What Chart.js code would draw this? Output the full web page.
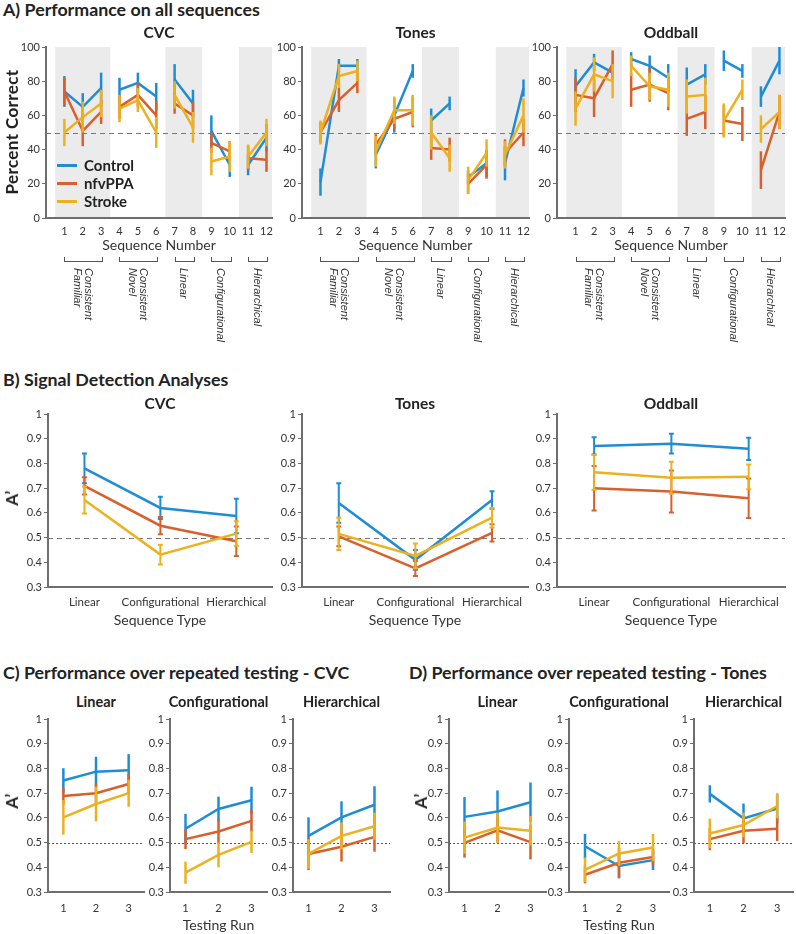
<!DOCTYPE html>
<html>
<head>
<meta charset="utf-8">
<script src="https://cdn.jsdelivr.net/npm/chart.js@4.4.0/dist/chart.umd.min.js"></script>
<style>
body { margin: 0; background: #fff; }
#page { position: relative; width: 796px; height: 934px; overflow: hidden; font-family: Lato, sans-serif; color: #222; }
.t { position: absolute; white-space: nowrap; }
canvas { position: absolute; }
</style>
</head>
<body>
<div id="page"></div>
<script>
// ---- data ----
var groupNames = ["Control", "nfvPPA", "Stroke"];
var groupColors = ["#1f8dd6", "#d95f2b", "#edb120"];

var seqNumbers = [1, 2, 3, 4, 5, 6, 7, 8, 9, 10, 11, 12];
var seqGroups = [[1, 2, 3], [4, 5, 6], [7, 8], [9, 10], [11, 12]];
var seqGroupNames = [["Consistent", "Familiar"], ["Consistent", "Novel"], ["Linear"], ["Configurational"], ["Hierarchical"]];
var shadedGroups = [0, 2, 4];
var percentTicks = [0, 20, 40, 60, 80, 100];
var aPrimeTicks = [0.3, 0.4, 0.5, 0.6, 0.7, 0.8, 0.9, 1];
var seqTypes = ["Linear", "Configurational", "Hierarchical"];
var testingRuns = [1, 2, 3];

// A) percent correct, per sequence 1-12
var cvcControl = [74, 65, 76, 75, 79, 71, 81, 67, 51, 31, 31, 47];
var cvcControlErr = [9, 8, 9, 7, 6, 8, 9, 8, 9, 7, 6, 8];
var cvcNfv = [74, 51, 62, 65, 72, 60, 67, 60, 44, 39, 35, 34];
var cvcNfvErr = [8, 9, 7, 7, 7, 8, 6, 8, 6, 6, 7, 7];
var cvcStroke = [50, 59, 67, 64, 69, 50, 72, 53, 33, 36, 36, 50];
var cvcStrokeErr = [8, 9, 8, 8, 7, 9, 8, 9, 8, 9, 7, 8];

var tonesControl = [21, 89, 89, 37, 60, 86, 57, 67, 24, 32, 32, 76];
var tonesControlErr = [8, 4, 4, 8, 10, 4, 7, 4, 4, 8, 10, 5];
var tonesNfv = [50, 69, 79, 43, 58, 62, 41, 40, 20, 31, 38, 50];
var tonesNfvErr = [6, 7, 6, 6, 6, 9, 7, 7, 6, 8, 8, 8];
var tonesStroke = [50, 83, 86, 39, 63, 63, 50, 35, 22, 38, 37, 60];
var tonesStrokeErr = [7, 7, 6, 9, 8, 9, 10, 8, 8, 8, 8, 10];

var oddControl = [77, 91, 85, 93, 89, 82, 78, 84, 92, 86, 71, 92];
var oddControlErr = [10, 5, 4, 4, 6, 8, 10, 6, 6, 4, 6, 8];
var oddNfv = [72, 70, 90, 75, 78, 73, 58, 62, 57, 55, 28, 62];
var oddNfvErr = [10, 11, 8, 10, 10, 10, 10, 10, 9, 10, 11, 10];
var oddStroke = [64, 84, 80, 89, 77, 75, 71, 72, 57, 75, 52, 62];
var oddStrokeErr = [10, 10, 10, 6, 8, 10, 10, 10, 10, 6, 8, 10];

// B) A' by sequence type
var sdCvcControl = [0.78, 0.62, 0.587], sdCvcControlErr = [0.06, 0.045, 0.07];
var sdCvcNfv = [0.709, 0.548, 0.485], sdCvcNfvErr = [0.035, 0.035, 0.06];
var sdCvcStroke = [0.652, 0.431, 0.516], sdCvcStrokeErr = [0.055, 0.04, 0.05];
var sdTonesControl = [0.64, 0.41, 0.652], sdTonesControlErr = [0.08, 0.04, 0.035];
var sdTonesNfv = [0.505, 0.375, 0.519], sdTonesNfvErr = [0.04, 0.03, 0.035];
var sdTonesStroke = [0.515, 0.426, 0.581], sdTonesStrokeErr = [0.065, 0.05, 0.04];
var sdOddControl = [0.871, 0.88, 0.859], sdOddControlErr = [0.035, 0.04, 0.045];
var sdOddNfv = [0.70, 0.686, 0.659], sdOddNfvErr = [0.09, 0.085, 0.08];
var sdOddStroke = [0.764, 0.742, 0.746], sdOddStrokeErr = [0.07, 0.065, 0.05];

// C) CVC A' over testing runs
var runCvcLinControl = [0.751, 0.787, 0.793], runCvcLinControlErr = [0.05, 0.06, 0.065];
var runCvcLinNfv = [0.688, 0.70, 0.737], runCvcLinNfvErr = [0.035, 0.04, 0.04];
var runCvcLinStroke = [0.602, 0.656, 0.70], runCvcLinStrokeErr = [0.07, 0.07, 0.055];
var runCvcConControl = [0.556, 0.636, 0.671], runCvcConControlErr = [0.06, 0.05, 0.055];
var runCvcConNfv = [0.514, 0.545, 0.588], runCvcConNfvErr = [0.04, 0.05, 0.045];
var runCvcConStroke = [0.378, 0.45, 0.503], runCvcConStrokeErr = [0.045, 0.05, 0.045];
var runCvcHieControl = [0.527, 0.602, 0.653], runCvcHieControlErr = [0.075, 0.065, 0.075];
var runCvcHieNfv = [0.454, 0.483, 0.523], runCvcHieNfvErr = [0.065, 0.06, 0.06];
var runCvcHieStroke = [0.454, 0.527, 0.566], runCvcHieStrokeErr = [0.06, 0.055, 0.055];

// D) Tones A' over testing runs
var runTonLinControl = [0.604, 0.626, 0.663], runTonLinControlErr = [0.08, 0.085, 0.08];
var runTonLinNfv = [0.499, 0.55, 0.502], runTonLinNfvErr = [0.06, 0.05, 0.07];
var runTonLinStroke = [0.52, 0.561, 0.548], runTonLinStrokeErr = [0.065, 0.06, 0.06];
var runTonConControl = [0.485, 0.405, 0.429], runTonConControlErr = [0.05, 0.05, 0.04];
var runTonConNfv = [0.37, 0.418, 0.442], runTonConNfvErr = [0.035, 0.06, 0.035];
var runTonConStroke = [0.39, 0.456, 0.48], runTonConStrokeErr = [0.05, 0.05, 0.055];
var runTonHieControl = [0.697, 0.598, 0.638], runTonHieControlErr = [0.035, 0.06, 0.06];
var runTonHieNfv = [0.514, 0.548, 0.556], runTonHieNfvErr = [0.045, 0.05, 0.05];
var runTonHieStroke = [0.537, 0.571, 0.648], runTonHieStrokeErr = [0.06, 0.05, 0.05];

// ---- plugins ----
var bandPlugin = {
    id: 'bands',
    beforeDraw: function(chart, args, opts) {
        if (!opts.ranges) return;
        var ctx = chart.ctx, a = chart.chartArea, x = chart.scales.x;
        ctx.save();
        ctx.fillStyle = '#ebebeb';
        opts.ranges.forEach(function(r) {
            var x0 = x.getPixelForValue(Math.max(r[0], x.min));
            var x1 = x.getPixelForValue(Math.min(r[1], x.max));
            ctx.fillRect(x0, a.top, x1 - x0, a.bottom - a.top);
        });
        ctx.restore();
    }
};

var refLinePlugin = {
    id: 'refLine',
    beforeDatasetsDraw: function(chart, args, opts) {
        if (opts.value == null) return;
        var ctx = chart.ctx, a = chart.chartArea;
        var py = Math.round(chart.scales.y.getPixelForValue(opts.value)) + 0.5;
        ctx.save();
        ctx.strokeStyle = opts.color || '#777';
        ctx.lineWidth = 1;
        ctx.setLineDash(opts.dash || [5, 4]);
        ctx.beginPath();
        ctx.moveTo(a.left, py);
        ctx.lineTo(a.right, py);
        ctx.stroke();
        ctx.restore();
    }
};

var errorBarPlugin = {
    id: 'errorBars',
    afterDatasetDraw: function(chart, args, opts) {
        var ds = chart.data.datasets[args.index];
        var ctx = chart.ctx, x = chart.scales.x, y = chart.scales.y;
        var cap = opts.cap || 0;
        ctx.save();
        ctx.strokeStyle = ds.borderColor;
        ctx.lineWidth = opts.width || 2.5;
        ds.data.forEach(function(p) {
            if (p.y == null || p.e == null) return;
            var px = x.getPixelForValue(p.x);
            var y0 = y.getPixelForValue(p.y - p.e), y1 = y.getPixelForValue(p.y + p.e);
            ctx.beginPath();
            ctx.moveTo(px, y0);
            ctx.lineTo(px, y1);
            if (cap) {
                ctx.moveTo(px - cap, y0); ctx.lineTo(px + cap, y0);
                ctx.moveTo(px - cap, y1); ctx.lineTo(px + cap, y1);
            }
            ctx.stroke();
        });
        ctx.restore();
    }
};

Chart.register(bandPlugin, refLinePlugin, errorBarPlugin);
Chart.defaults.font.family = 'Lato';
Chart.defaults.color = '#333';

var page = document.getElementById('page');

function addText(text, x, y, css) {
    var d = document.createElement('div');
    d.className = 't';
    d.textContent = text;
    d.style.cssText = 'left:' + x + 'px;top:' + y + 'px;' + (css || '');
    page.appendChild(d);
    return d;
}

function points(xs, vals, errs) {
    return xs.map(function(xv, i) { return { x: xv, y: vals[i], e: errs[i] }; });
}

function seqPoints(vals, errs) {
    var pts = [];
    seqGroups.forEach(function(g) {
        g.forEach(function(n) { pts.push({ x: n, y: vals[n - 1], e: errs[n - 1] }); });
        pts.push({ x: g[g.length - 1] + 0.5, y: null });
    });
    return pts;
}

function makeDatasets(series) {
    return series.map(function(data, i) {
        return {
            label: groupNames[i],
            data: data,
            borderColor: groupColors[i],
            backgroundColor: groupColors[i],
            borderWidth: 2.5,
            pointRadius: 0,
            spanGaps: false,
            order: 2 - i
        };
    });
}

// box = chart area in page pixels
function makeChart(box, datasets, o) {
    var padL = 44, padT = 8, padR = 6, padB = 26;
    var w = box.right - box.left + padL + padR;
    var h = box.bottom - box.top + padT + padB;
    var cv = document.createElement('canvas');
    cv.width = w; cv.height = h;
    cv.style.left = (box.left - padL) + 'px';
    cv.style.top = (box.top - padT) + 'px';
    cv.style.width = w + 'px';
    cv.style.height = h + 'px';
    page.appendChild(cv);
    var chart = new Chart(cv, {
        type: 'line',
        data: { datasets: datasets },
        options: {
            responsive: false,
            animation: false,
            events: [],
            layout: { padding: { left: 0, top: padT, right: padR, bottom: 0 } },
            plugins: {
                legend: { display: false },
                tooltip: { enabled: false },
                bands: { ranges: o.bands },
                refLine: { value: o.ref, dash: o.dash, color: o.refColor },
                errorBars: { cap: o.cap, width: o.errWidth }
            },
            scales: {
                x: {
                    type: 'linear', min: o.xMin, max: o.xMax,
                    grid: { display: false, drawTicks: false, tickLength: 0 },
                    border: { display: true, color: '#6e6e6e', width: 2 },
                    ticks: {
                        padding: o.xPad, font: { size: o.xFont || 11 }, color: '#333', maxRotation: 0,
                        callback: o.xLabel
                    },
                    afterBuildTicks: function(s) { s.ticks = o.xTicks.map(function(v) { return { value: v }; }); },
                    afterFit: function(s) { s.height = padB; s.paddingLeft = 0; s.paddingRight = 0; }
                },
                y: {
                    type: 'linear', min: o.yMin, max: o.yMax,
                    grid: { display: true, drawOnChartArea: false, drawTicks: true, tickLength: 4, color: '#6e6e6e', lineWidth: 1 },
                    border: { display: true, color: '#6e6e6e', width: 2 },
                    ticks: { padding: 2, font: { size: 11 }, color: '#333', callback: o.yLabel },
                    afterBuildTicks: function(s) { s.ticks = o.yTicks.map(function(v) { return { value: v }; }); },
                    afterFit: function(s) { s.width = padL; s.paddingTop = 0; s.paddingBottom = 0; }
                }
            }
        }
    });
    return chart;
}

function aPrimeLabel(v) { return Math.abs(v - 1) < 1e-9 ? '1' : v.toFixed(1); }
function intLabel(v) { return String(v); }

var titleCss = 'font-weight:700;font-size:17.8px;line-height:20px;color:#222;';
var subCss = 'font-weight:700;font-size:15.5px;line-height:18px;color:#222;transform:translate(-50%,-50%);';
var axCss = 'font-size:14px;line-height:16px;color:#333;transform:translate(-50%,-50%);';
var vertCss = 'font-weight:700;font-size:17px;letter-spacing:0.4px;line-height:20px;color:#222;transform:translate(-50%,-50%) rotate(-90deg);';

// ---- A) Performance on all sequences ----
addText('A) Performance on all sequences', 3, -1, titleCss);
var bandRanges = shadedGroups.map(function(gi) {
    var g = seqGroups[gi];
    return [g[0] - 0.5, g[g.length - 1] + 0.5];
});
var aCharts = [
    ['CVC', { left: 46, right: 272 }, [seqPoints(cvcControl, cvcControlErr), seqPoints(cvcNfv, cvcNfvErr), seqPoints(cvcStroke, cvcStrokeErr)]],
    ['Tones', { left: 302, right: 529 }, [seqPoints(tonesControl, tonesControlErr), seqPoints(tonesNfv, tonesNfvErr), seqPoints(tonesStroke, tonesStrokeErr)]],
    ['Oddball', { left: 557, right: 785 }, [seqPoints(oddControl, oddControlErr), seqPoints(oddNfv, oddNfvErr), seqPoints(oddStroke, oddStrokeErr)]]
];
aCharts.forEach(function(c) {
    var box = { left: c[1].left, right: c[1].right, top: 47, bottom: 218 };
    var ch = makeChart(box, makeDatasets(c[2]), {
        xMin: 0, xMax: 12.3, xTicks: seqNumbers, xLabel: intLabel, xPad: 7,
        yMin: 0, yMax: 100, yTicks: percentTicks, yLabel: intLabel,
        bands: bandRanges, ref: 50, errWidth: 2.5
    });
    var cx = (box.left + box.right) / 2;
    addText(c[0], cx, 32, subCss);
    addText('Sequence Number', cx, 245, axCss);
    // brackets + group labels under the axis, placed from the x scale
    var xs = ch.scales.x, offL = box.left - 44;
    seqGroups.forEach(function(g, gi) {
        var x0 = offL + xs.getPixelForValue(g[0]);
        var x1 = offL + xs.getPixelForValue(g[g.length - 1]);
        var br = document.createElement('div');
        br.style.cssText = 'position:absolute;left:' + x0 + 'px;top:257px;width:' + (x1 - x0) + 'px;height:4px;border:1px solid #555;border-top:none;';
        page.appendChild(br);
        var lb = addText('', (x0 + x1) / 2, 268,
            'writing-mode:vertical-rl;font-family:"Liberation Sans",Arial,sans-serif;font-style:italic;font-size:11px;line-height:11px;color:#333;transform:translateX(-50%);white-space:pre;');
        lb.textContent = seqGroupNames[gi].join('\n');
    });
});
addText('Percent Correct', 12, 132, vertCss);

// legend inside CVC panel
groupNames.forEach(function(n, i) {
    var yy = 165 + i * 18;
    var ln = document.createElement('div');
    ln.style.cssText = 'position:absolute;left:57px;top:' + (yy - 1.5) + 'px;width:20px;height:3px;background:' + groupColors[i] + ';';
    page.appendChild(ln);
    addText(n, 84, yy - 9, 'font-weight:700;font-size:15px;line-height:18px;color:#222;');
});

// ---- B) Signal Detection Analyses ----
addText('B) Signal Detection Analyses', 3, 369, titleCss);
var seqTypeX = [1, 2, 3];
var bCharts = [
    ['CVC', { left: 48, right: 272 }, [points(seqTypeX, sdCvcControl, sdCvcControlErr), points(seqTypeX, sdCvcNfv, sdCvcNfvErr), points(seqTypeX, sdCvcStroke, sdCvcStrokeErr)]],
    ['Tones', { left: 302, right: 528 }, [points(seqTypeX, sdTonesControl, sdTonesControlErr), points(seqTypeX, sdTonesNfv, sdTonesNfvErr), points(seqTypeX, sdTonesStroke, sdTonesStrokeErr)]],
    ['Oddball', { left: 557, right: 785 }, [points(seqTypeX, sdOddControl, sdOddControlErr), points(seqTypeX, sdOddNfv, sdOddNfvErr), points(seqTypeX, sdOddStroke, sdOddStrokeErr)]]
];
bCharts.forEach(function(c) {
    var box = { left: c[1].left, right: c[1].right, top: 414, bottom: 587 };
    makeChart(box, makeDatasets(c[2]), {
        xMin: 0.52, xMax: 3.47, xTicks: seqTypeX, xLabel: function(v) { return seqTypes[v - 1]; }, xPad: 8, xFont: 11.5,
        yMin: 0.3, yMax: 1, yTicks: aPrimeTicks, yLabel: aPrimeLabel,
        ref: 0.5, cap: 2.5, errWidth: 2
    });
    var cx = (box.left + box.right) / 2;
    addText(c[0], cx, 403, subCss);
    addText('Sequence Type', cx, 620, axCss);
});
addText('A\u2019', 12, 498, vertCss);

// ---- C) and D) Performance over repeated testing ----
function runPanel(title, tx, boxes, series, yLabelX) {
    addText(title, tx, 662, titleCss);
    boxes.forEach(function(b, i) {
        var box = { left: b[1], right: b[2], top: 719, bottom: 892 };
        makeChart(box, makeDatasets(series[i]), {
            xMin: 0.53, xMax: 3.47, xTicks: testingRuns, xLabel: intLabel, xPad: 10,
            yMin: 0.3, yMax: 1, yTicks: aPrimeTicks, yLabel: aPrimeLabel,
            ref: 0.5, dash: [2, 2], refColor: '#555', errWidth: 2.5
        });
        var cx = (box.left + box.right) / 2;
        addText(b[0], cx, 701, 'font-weight:700;font-size:14.5px;line-height:17px;color:#222;transform:translate(-50%,-50%);');
        if (i === 1) addText('Testing Run', cx, 925, axCss);
    });
    addText('A\u2019', yLabelX, 801, vertCss);
}

runPanel('C) Performance over repeated testing - CVC', 3,
    [['Linear', 48, 144], ['Configurational', 170, 267], ['Hierarchical', 293, 390]],
    [
        [points(testingRuns, runCvcLinControl, runCvcLinControlErr), points(testingRuns, runCvcLinNfv, runCvcLinNfvErr), points(testingRuns, runCvcLinStroke, runCvcLinStrokeErr)],
        [points(testingRuns, runCvcConControl, runCvcConControlErr), points(testingRuns, runCvcConNfv, runCvcConNfvErr), points(testingRuns, runCvcConStroke, runCvcConStrokeErr)],
        [points(testingRuns, runCvcHieControl, runCvcHieControlErr), points(testingRuns, runCvcHieNfv, runCvcHieNfvErr), points(testingRuns, runCvcHieStroke, runCvcHieStrokeErr)]
    ], 12);

runPanel('D) Performance over repeated testing - Tones', 409,
    [['Linear', 449, 546], ['Configurational', 569, 669], ['Hierarchical', 694, 793]],
    [
        [points(testingRuns, runTonLinControl, runTonLinControlErr), points(testingRuns, runTonLinNfv, runTonLinNfvErr), points(testingRuns, runTonLinStroke, runTonLinStrokeErr)],
        [points(testingRuns, runTonConControl, runTonConControlErr), points(testingRuns, runTonConNfv, runTonConNfvErr), points(testingRuns, runTonConStroke, runTonConStrokeErr)],
        [points(testingRuns, runTonHieControl, runTonHieControlErr), points(testingRuns, runTonHieNfv, runTonHieNfvErr), points(testingRuns, runTonHieStroke, runTonHieStrokeErr)]
    ], 421);
</script>
</body>
</html>
